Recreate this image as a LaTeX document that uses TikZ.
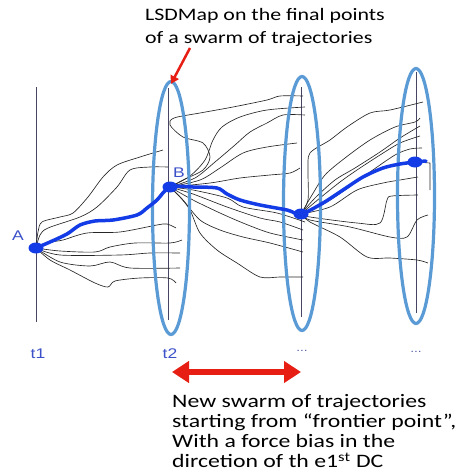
\documentclass[tikz,border=0pt]{standalone}
\usepackage{fontspec}
\setmainfont{Carlito}
\newfontfamily\lblfont{Liberation Sans}
\usetikzlibrary{arrows.meta,shapes.geometric}
\definecolor{ovalblue}{RGB}{91,155,213}
\definecolor{pathblue}{RGB}{20,60,230}
\definecolor{lblblue}{RGB}{60,80,200}
\definecolor{tlinecol}{RGB}{70,70,100}
\definecolor{arrowred}{RGB}{230,30,20}
\newcommand{\wide}[1]{\scalebox{1.25}[1]{#1}}
\begin{document}
\begin{tikzpicture}[x=1pt,y=-1pt,
  traj/.style={draw=black!85, line width=0.65pt, line join=round},
  oval/.style={ellipse, draw=ovalblue, line width=3.2pt, minimum width=37pt, inner sep=0pt},
  tline/.style={draw=tlinecol, line width=0.9pt},
  bluepath/.style={draw=pathblue, line width=3.5pt, line cap=round, line join=round},
  pt/.style={ellipse, fill=pathblue, minimum width=15pt, minimum height=11pt, inner sep=0pt},
  lbl/.style={text=lblblue, font=\lblfont\fontsize{14}{14}\selectfont, inner sep=0pt},
  tlbl/.style={text=lblblue, font=\lblfont\fontsize{14}{14}\selectfont, inner sep=0pt},
  dots/.style={text=lblblue!55!gray, font=\lblfont\fontsize{11}{11}\selectfont, inner sep=0pt},
  txt/.style={inner sep=0pt, text=black}]
\useasboundingbox (0,0) rectangle (475,474);

% time lines
\coordinate (t1a) at (36,87);  \coordinate (t1b) at (36,322);
\coordinate (t2a) at (168,88); \coordinate (t2b) at (168,320);
\coordinate (t3a) at (301,87); \coordinate (t3b) at (301,317);
\coordinate (t4a) at (416,72); \coordinate (t4b) at (416,313);
\draw[tline] (t1a) -- (t1b);
\draw[tline] (t2a) -- (t2b);
\draw[tline] (t3a) -- (t3b);
\draw[tline] (t4a) -- (t4b);

% points
\coordinate (A) at (36,248);
\coordinate (B) at (170,187);
\coordinate (C) at (301,214);
\coordinate (D) at (415,162);

% swarm from A
\draw[traj] plot[smooth,tension=.5] coordinates {(A) (38,232) (42,222) (60,217) (73,213) (88,197) (103,177) (117,165) (140,157) (163,150)};
\draw[traj] plot[smooth,tension=.5] coordinates {(A) (40,235) (48,228) (80,217) (97,207) (117,187) (130,170) (150,167) (168,167)};
\draw[traj] plot[smooth,tension=.5] coordinates {(A) (52,242) (63,240) (87,233) (120,232) (157,225) (167,224) (176,228)};
\draw[traj] plot[smooth,tension=.5] coordinates {(A) (60,251) (95,252) (110,247) (135,243) (170,243) (182,240)};
\draw[traj] plot[smooth,tension=.5] coordinates {(A) (60,255) (120,255) (150,253) (180,253)};
\draw[traj] plot[smooth,tension=.5] coordinates {(A) (60,262) (90,266) (110,262) (130,268) (180,268)};
\draw[traj] plot[smooth,tension=.5] coordinates {(A) (50,260) (70,270) (95,283) (108,287) (115,281) (140,278) (168,278) (176,283)};

% swarm from B
\draw[traj] plot[smooth,tension=.5] coordinates {(B) (183,180) (203,170) (210,157) (203,143) (183,137) (170,125) (174,118) (200,113) (233,107) (267,100) (280,96) (303,96)};
\draw[traj] plot[smooth,tension=.5] coordinates {(B) (190,176) (205,160) (213,140) (222,127) (240,117) (267,110) (305,107)};
\draw[traj] plot[smooth,tension=.5] coordinates {(B) (195,178) (215,162) (235,145) (250,132) (267,123) (283,115) (305,115)};
\draw[traj] plot[smooth,tension=.5] coordinates {(B) (200,180) (220,168) (243,153) (267,147) (297,143)};
\draw[traj] plot[smooth,tension=.5] coordinates {(B) (210,183) (240,178) (270,175) (290,173) (300,168)};
\draw[traj] plot[smooth,tension=.5] coordinates {(B) (193,190) (227,198) (243,207) (277,213) (305,222)};
\draw[traj] plot[smooth,tension=.5] coordinates {(B) (193,194) (227,207) (260,218) (280,222) (303,230)};
\draw[traj] plot[smooth,tension=.5] coordinates {(B) (193,200) (220,213) (243,223) (270,233) (303,240)};
\draw[traj] plot[smooth,tension=.5] coordinates {(B) (183,200) (200,220) (220,230) (243,237) (270,243) (303,252)};
\draw[traj] plot[smooth,tension=.5] coordinates {(B) (180,197) (190,210) (200,233) (217,250) (237,263) (260,277) (280,277) (303,277)};

% swarm from C
\draw[traj] plot[smooth,tension=.5] coordinates {(C) (308,200) (308,170) (310,153) (330,140) (347,127) (370,113) (390,110) (423,102)};
\draw[traj] plot[smooth,tension=.5] coordinates {(C) (312,195) (325,175) (345,158) (370,140) (395,127) (415,122) (420,118)};
\draw[traj] plot[smooth,tension=.5] coordinates {(C) (315,198) (335,180) (355,168) (380,152) (400,138) (420,126)};
\draw[traj] plot[smooth,tension=.5] coordinates {(C) (320,198) (340,182) (357,170) (380,155) (400,143) (420,136)};
\draw[traj] plot[smooth,tension=.5] coordinates {(C) (322,205) (345,190) (370,172) (395,155) (410,149) (422,148)};
\draw[traj] plot[smooth,tension=.5] coordinates {(C) (330,207) (357,190) (383,183) (400,180) (418,177)};
\draw[traj] plot[smooth,tension=.5] coordinates {(C) (310,217) (357,223) (380,223) (387,200) (392,196) (418,195)};
\draw[traj] plot[smooth,tension=.5] coordinates {(C) (310,220) (350,227) (390,237) (407,237) (417,220) (428,215)};
\draw[traj] plot[smooth,tension=.5] coordinates {(C) (310,222) (340,237) (367,257) (390,258) (417,260) (428,263)};
\draw[traj] (D) -- (430,163) -- (430,190);

% ellipses
\node[oval, minimum height=253pt] (E1) at (171,208) {};
\node[oval, minimum height=254pt] (E2) at (302,203.5) {};
\node[oval, minimum height=255pt] (E3) at (416,196) {};

% main blue path
\draw[bluepath] plot[smooth,tension=.5] coordinates {(A) (50,242) (67,234) (80,225) (95,221) (113,220) (137,215) (147,208) (157,200) (B) (193,187) (217,188) (227,194) (240,200) (260,205) (287,210) (C) (323,203) (343,190) (363,177) (383,168) (400,164) (D)};
\draw[bluepath] (D) -- (426,161);
\node[pt] (pA) at (A) {};
\node[pt] (pB) at (B) {};
\node[pt] (pC) at (C) {};
\node[pt] (pD) at (D) {};

% labels
\node[lbl] (lA) at (18,236) {\wide{A}};
\node[lbl] (lB) at (179,173) {\wide{B}};
\node[tlbl] (l1) at (38,354) {\wide{t1}};
\node[tlbl] (l2) at (170,354) {\wide{t2}};
\node[dots] (l3) at (302,351) {\wide{...}};
\node[dots] (l4) at (416,352) {\wide{...}};

% texts
\node[txt, anchor=base west] (top) at (145,20.7) {\fontsize{17.5}{23}\selectfont\wide{\begin{tabular}[t]{@{}l@{}}LSDMap on the final points\\of a swarm of trajectories\end{tabular}}};
\node[txt, anchor=base west] (bot) at (172,407) {\fontsize{19}{20}\selectfont\wide{\begin{tabular}[t]{@{}l@{}}New swarm of trajectories\\starting from “frontier point”,\\With a force bias in the\\dircetion of th e1\textsuperscript{st} DC\end{tabular}}};

% arrows
\coordinate (r1) at (190,48);
\draw[arrowred, line width=2.5pt, -{Triangle[length=8pt,width=9pt]}] (r1) -- ([yshift=-4pt]E1.north);
\coordinate (d1) at (172,372);
\coordinate (d2) at (301,372);
\draw[arrowred, line width=6.5pt, {Triangle[length=17pt,width=21pt]}-{Triangle[length=17pt,width=21pt]}] (d1) -- (d2);
\end{tikzpicture}
\end{document}
